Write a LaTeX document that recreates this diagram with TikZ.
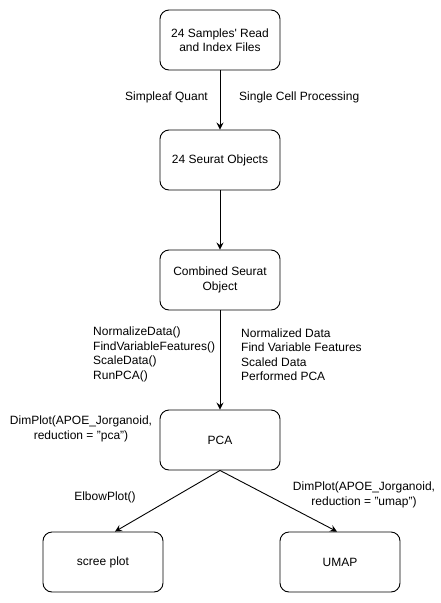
\documentclass[tikz,border=0pt]{standalone}
\usepackage{fontspec}
\setmainfont{Liberation Sans}
\usepackage{tikz}
\usetikzlibrary{arrows.meta,positioning}

\begin{document}
\begin{tikzpicture}[x=1pt,y=-1pt,
    font=\fontsize{12}{14.5}\selectfont,
    box/.style={draw,line width=0.9pt,rounded corners=9pt,minimum width=120pt,minimum height=60pt,align=center},
    lbl/.style={inner sep=0pt,align=left},
    flow/.style={line width=0.9pt,-{Stealth[length=7pt,width=7pt,inset=2.5pt]}}]

    \useasboundingbox (0,0) rectangle (440,603);

    \node[box] (reads) at (220,40) {24 Samples\textquotesingle{} Read\\and Index Files};
    \node[box] (seurat) at (220,160) {24 Seurat Objects};
    \node[box] (combined) at (220,280) {Combined Seurat\\Object};
    \node[box] (pca) at (220,440) {PCA};
    \node[box] (scree) at (103,562) {scree plot};
    \node[box] (umap) at (340,562) {UMAP};

    \node[lbl,anchor=east] (quant) at (208,97) {Simpleaf Quant};
    \node[lbl,anchor=west] (sc) at (239,97) {Single Cell Processing};
    \node[lbl,anchor=west] (funcs) at (93,354.5) {NormalizeData()\\FindVariableFeatures()\\ScaleData()\\RunPCA()};
    \node[lbl,anchor=west] (steps) at (241,354.5) {Normalized Data\\Find Variable Features\\Scaled Data\\Performed PCA};
    \node[lbl,align=center] (dimpca) at (81,429) {DimPlot(APOE\_Jorganoid,\\reduction = "pca")};
    \node[lbl] (elbow) at (105,497) {ElbowPlot()};
    \node[lbl,align=center] (dimumap) at (364,495) {DimPlot(APOE\_Jorganoid,\\reduction = "umap")};

    \draw[flow] (reads) -- (seurat);
    \draw[flow] (seurat) -- (combined);
    \draw[flow] (combined) -- (pca);
    \draw[flow] (pca.south) -- ([xshift=12pt]scree.north);
    \draw[flow] (pca.south) -- ([xshift=-3pt]umap.north);
\end{tikzpicture}
\end{document}
